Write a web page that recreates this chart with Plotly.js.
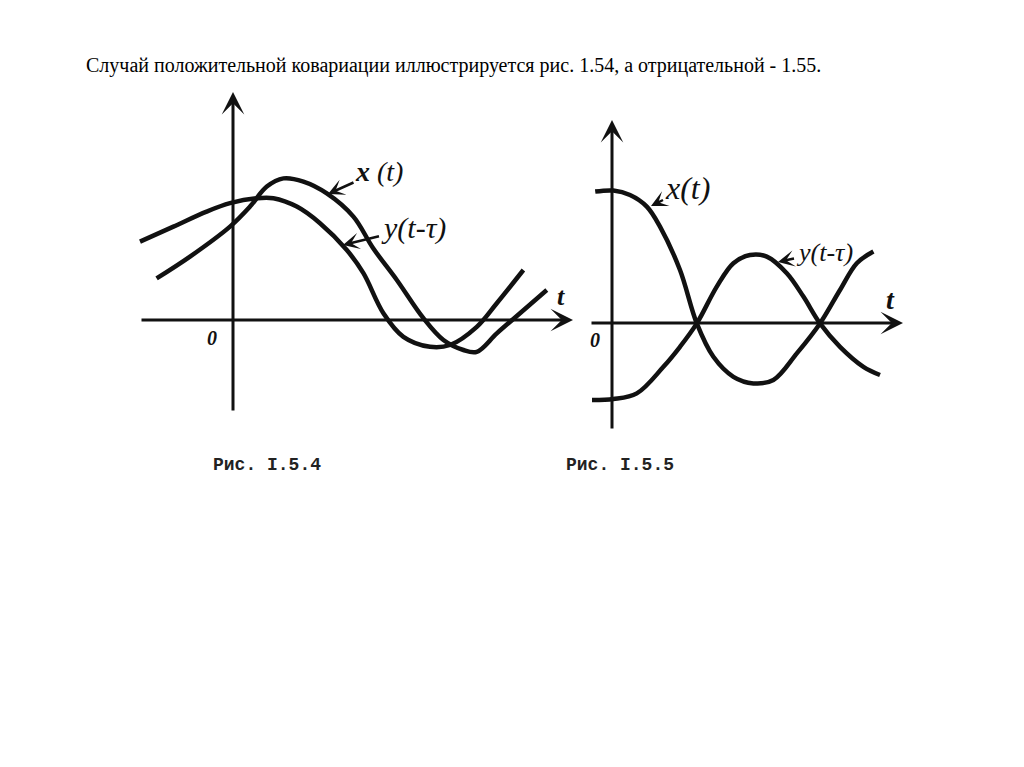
<!DOCTYPE html>
<html><head><meta charset="utf-8">
<script src="https://cdn.plot.ly/plotly-3.0.1.min.js"></script>
<style>html,body{margin:0;padding:0;background:#fff;}#chart{width:1024px;height:767px;}</style>
</head><body><div id="chart"></div>
<script>
// Figure I.5.4 (positive covariance)
const fig4_t_x = [-3.82, -2.15, -0.15, 0.85, 1.69, 2.52, 3.52, 4.69, 6.02, 7.0, 8.19, 9.52, 10.52, 11.52, 12.19, 13.19, 14.35, 15.69];
const fig4_x   = [2.08, 3.17, 4.67, 5.67, 6.67, 7.08, 6.92, 6.33, 5.17, 3.6, 2.0, 0.09, -1.0, -1.5, -1.59, -0.67, 0.34, 1.5];
const fig4_t_y = [-4.65, -2.98, -1.32, -0.15, 1.19, 2.02, 3.19, 4.35, 5.69, 6.52, 7.52, 8.52, 9.85, 10.85, 12.19, 13.19, 14.52];
const fig4_y   = [3.92, 4.67, 5.42, 5.84, 6.09, 6.09, 5.67, 4.84, 3.5, 2.34, 0.34, -0.84, -1.34, -1.25, -0.34, 0.84, 2.5];
// Figure I.5.5 (negative covariance)
const fig5_t_x = [-0.84, 0.07, 0.9, 1.74, 2.4, 3.4, 4.24, 5.07, 6.07, 7.07, 8.07, 9.24, 10.4, 11.4, 12.24, 13.07];
const fig5_x   = [6.57, 6.62, 6.4, 5.82, 4.82, 2.65, -0.02, -1.69, -2.69, -3.02, -2.85, -1.52, -0.02, 1.65, 2.99, 3.57];
const fig5_t_y = [-1.0, 0.07, 1.24, 2.57, 3.4, 4.24, 5.24, 6.07, 6.9, 7.74, 8.74, 9.57, 10.4, 11.4, 12.57, 13.4];
const fig5_y   = [-3.85, -3.8, -3.52, -2.19, -1.19, -0.02, 1.82, 2.99, 3.4, 3.32, 2.49, 1.32, -0.02, -1.19, -2.19, -2.6];
// texts
const titleText = "Случай положительной ковариации иллюстрируется рис. 1.54, а отрицательной - 1.55.";
const captions = ["Рис. I.5.4", "Рис. I.5.5"];
const seriesLabels = ["<b>x</b> (t)", "y(t-τ)", "x(t)", "y(t-τ)"];

const ink = '#111';
const lineStyle = {color: ink, width: 4.5, shape: 'spline', smoothing: 1};
const traces = [
  {x: fig4_t_x, y: fig4_x, mode: 'lines', line: lineStyle, xaxis: 'x', yaxis: 'y'},
  {x: fig4_t_y, y: fig4_y, mode: 'lines', line: lineStyle, xaxis: 'x', yaxis: 'y'},
  {x: fig5_t_x, y: fig5_x, mode: 'lines', line: lineStyle, xaxis: 'x2', yaxis: 'y2'},
  {x: fig5_t_y, y: fig5_y, mode: 'lines', line: lineStyle, xaxis: 'x2', yaxis: 'y2'}
];

const W = 1024, H = 767;
function axisArrow(xr, yr, x, y, ax, ay) {
  return {xref: xr, yref: yr, axref: xr, ayref: yr, x: x, y: y, ax: ax, ay: ay, text: '',
          showarrow: true, arrowhead: 3, arrowsize: 1.25, arrowwidth: 3, arrowcolor: ink};
}
function label(xr, yr, text, x, y, ax, ay, size) {
  return {xref: xr, yref: yr, axref: xr, ayref: yr, x: x, y: y, ax: ax, ay: ay,
          text: '<i>' + text + '</i>', showarrow: true, arrowhead: 3, arrowsize: 1.1, arrowwidth: 2.5,
          arrowcolor: ink, standoff: 0, font: {family: 'Liberation Serif', size: size, color: ink}};
}
function plain(xr, yr, text, x, y, size, fam) {
  return {xref: xr, yref: yr, x: x, y: y, text: text, showarrow: false,
          font: {family: fam || 'Liberation Serif', size: size, color: ink}};
}

const annotations = [
  // axes of fig 4
  axisArrow('x', 'y', 0, 11.4, 0, -4.6),
  axisArrow('x', 'y', 17.0, 0, -4.65, 0),
  // axes of fig 5
  axisArrow('x2', 'y2', 0, 10.15, 0, -5.35),
  axisArrow('x2', 'y2', 14.55, 0, -1.1, 0),
  // series labels
  label('x', 'y', seriesLabels[0], 4.75, 6.3, 7.3, 7.45, 28),
  label('x', 'y', seriesLabels[1], 5.5, 3.75, 9.0, 4.6, 30),
  label('x2', 'y2', seriesLabels[2], 1.95, 5.85, 3.75, 6.75, 32),
  label('x2', 'y2', seriesLabels[3], 8.3, 3.05, 10.6, 3.55, 26),
  // t and 0
  plain('x', 'y', '<i><b>t</b></i>', 16.4, 1.2, 26),
  plain('x', 'y', '<i><b>0</b></i>', -1.05, -0.9, 20),
  plain('x2', 'y2', '<i><b>t</b></i>', 13.9, 1.2, 28),
  plain('x2', 'y2', '<i><b>0</b></i>', -0.85, -0.85, 20),
  // captions
  {xref: 'paper', yref: 'paper', x: 211 / W, y: 1 - 465 / H, xanchor: 'left', yanchor: 'middle',
   text: '<b>' + captions[0] + '</b>', showarrow: false, font: {family: 'Liberation Mono', size: 18, color: '#222'}},
  {xref: 'paper', yref: 'paper', x: 564 / W, y: 1 - 465 / H, xanchor: 'left', yanchor: 'middle',
   text: '<b>' + captions[1] + '</b>', showarrow: false, font: {family: 'Liberation Mono', size: 18, color: '#222'}},
  // heading
  {xref: 'paper', yref: 'paper', x: 84 / W, y: 1 - 65 / H, xanchor: 'left', yanchor: 'middle',
   text: titleText, showarrow: false, font: {family: 'Liberation Serif', size: 20, color: '#000'}}
];

const hidden = {visible: false, showgrid: false, zeroline: false, fixedrange: true};
const layout = {
  width: W, height: H, margin: {l: 0, r: 0, t: 0, b: 0},
  paper_bgcolor: '#fff', plot_bgcolor: 'rgba(0,0,0,0)', showlegend: false,
  xaxis: Object.assign({}, hidden, {domain: [120 / W, 580 / W], range: [(120 - 233) / 20, (580 - 233) / 20]}),
  yaxis: Object.assign({}, hidden, {domain: [1 - 430 / H, 1 - 80 / H], range: [(320 - 430) / 20, (320 - 80) / 20]}),
  xaxis2: Object.assign({}, hidden, {domain: [580 / W, 920 / W], range: [(580 - 612) / 20, (920 - 612) / 20], anchor: 'y2'}),
  yaxis2: Object.assign({}, hidden, {domain: [1 - 440 / H, 1 - 100 / H], range: [(323 - 440) / 20, (323 - 100) / 20], anchor: 'x2'}),
  annotations: annotations
};
Plotly.newPlot('chart', traces, layout, {staticPlot: true, displayModeBar: false});
</script>
</body></html>
